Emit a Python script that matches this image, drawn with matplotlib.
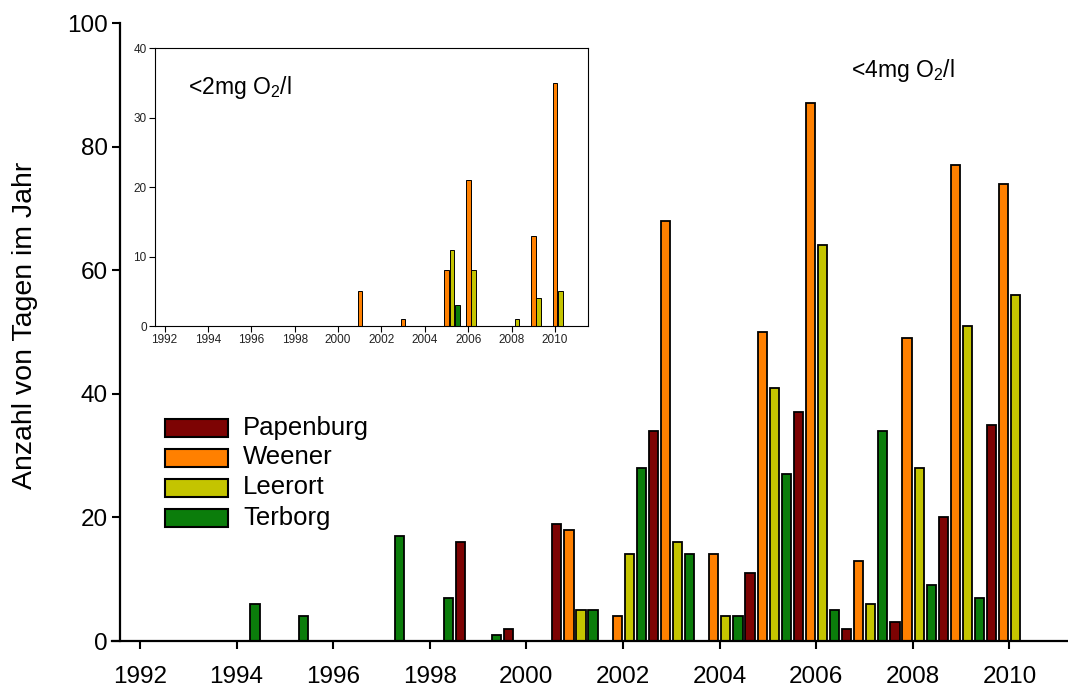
import matplotlib
matplotlib.use("Agg")
import matplotlib.pyplot as plt
import numpy as np
from matplotlib.patches import Rectangle

plt.rcParams['font.family'] = ['Liberation Sans', 'DejaVu Sans']
plt.rcParams['mathtext.fontset'] = 'custom'
plt.rcParams['mathtext.rm'] = 'Liberation Sans'

# Daten: Anzahl Tage im Jahr unter 4 mg O2/l (Hauptgrafik) bzw. 2 mg O2/l (Inset)
years = np.arange(1992, 2011)
stations = ["Papenburg", "Weener", "Leerort", "Terborg"]
colors = ["#7d0303", "#ff8000", "#c4c400", "#0b7d0b"]

papenburg_4 = [0, 0, 0, 0, 0, 0, 0, 16, 2, 19, 0, 34, 0, 11, 37, 2, 3, 20, 35]
weener_4 = [0, 0, 0, 0, 0, 0, 0, 0, 0, 18, 4, 68, 14, 50, 87, 13, 49, 77, 74]
leerort_4 = [0, 0, 0, 0, 0, 0, 0, 0, 0, 5, 14, 16, 4, 41, 64, 6, 28, 51, 56]
terborg_4 = [0, 0, 6, 4, 0, 17, 7, 1, 0, 5, 28, 14, 4, 27, 5, 34, 9, 7, 0]

papenburg_2 = [0] * 19
weener_2 = [0, 0, 0, 0, 0, 0, 0, 0, 0, 5, 0, 1, 0, 8, 21, 0, 0, 13, 35]
leerort_2 = [0, 0, 0, 0, 0, 0, 0, 0, 0, 0, 0, 0, 0, 11, 8, 0, 1, 4, 5]
terborg_2 = [0, 0, 0, 0, 0, 0, 0, 0, 0, 0, 0, 0, 0, 3, 0, 0, 0, 0, 0]

main_series = [papenburg_4, weener_4, leerort_4, terborg_4]
inset_series = [papenburg_2, weener_2, leerort_2, terborg_2]

W, H = 1068, 686
fig = plt.figure(figsize=(W / 100, H / 100), dpi=100)

# Hauptachse
ax = fig.add_axes([111.7 / W, (H - 641) / H, (W - 111.7) / W, 618 / H])
offsets = [-0.37, -0.12, 0.13, 0.38]
for vals, off, c in zip(main_series, offsets, colors):
    v = np.array(vals, dtype=float)
    v[v == 0] = np.nan
    ax.bar(years + off, v, width=0.19, color=c, edgecolor='black', linewidth=1.3, zorder=2)

ax.set_xlim(1991.414, 2011.213)
ax.set_ylim(0, 100)
ax.spines['top'].set_visible(False)
ax.spines['right'].set_visible(False)
ax.spines['left'].set_position(('data', 1991.596))
for s in ['left', 'bottom']:
    ax.spines[s].set_linewidth(1.6)
ax.set_xticks(np.arange(1992, 2011, 2))
ax.set_yticks(np.arange(0, 101, 20))
ax.tick_params(axis='both', direction='out', length=6, width=1.5, labelsize=17.5)
ax.tick_params(axis='x', pad=12)
ax.tick_params(axis='y', pad=3)

fig.text(25 / W, 1 - 325 / H, "Anzahl von Tagen im Jahr", rotation=90,
         ha='center', va='center', fontsize=20.5)
fig.text(851 / W, 1 - 77 / H, r"<4mg O$_\mathrm{2}$/l", fontsize=16.5, ha='left', va='baseline')

# Legende
for i, (name, c) in enumerate(zip(stations, colors)):
    yc = 427.5 + 30 * i
    fig.add_artist(Rectangle((165 / W, 1 - (yc + 9) / H), 63 / W, 18 / H,
                             transform=fig.transFigure, facecolor=c,
                             edgecolor='black', linewidth=1.5))
    fig.text(243 / W, 1 - yc / H, name, fontsize=18.5, ha='left', va='center')

# Inset (<2 mg O2/l)
axi = fig.add_axes([155 / W, (H - 326) / H, 433 / W, 277.7 / H])
in_offsets = [-0.25, 0.0, 0.25, 0.5]
for vals, off, c in zip(inset_series, in_offsets, colors):
    v = np.array(vals, dtype=float)
    v[v == 0] = np.nan
    axi.bar(years + off, v, width=0.21, color=c, edgecolor='black', linewidth=0.7, zorder=2)

axi.set_xlim(1991.56, 2011.52)
axi.set_ylim(0, 40)
axi.set_xticks(np.arange(1992, 2011, 2))
axi.set_yticks(np.arange(0, 41, 10))
for s in axi.spines.values():
    s.set_linewidth(0.8)
axi.tick_params(axis='both', direction='out', length=4, width=0.8, labelsize=8.5,
                labelcolor='#222222', pad=2)
fig.text(188 / W, 1 - 94 / H, r"<2mg O$_\mathrm{2}$/l", fontsize=16.5, ha='left', va='baseline')

fig.savefig("out.png", dpi=100)
